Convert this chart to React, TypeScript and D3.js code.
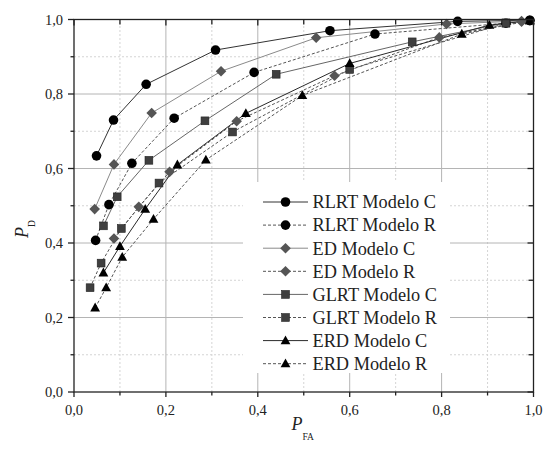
import React from "react";
import * as d3 from "d3";

// ---- data ----
const seriesNames = [
  "RLRT Modelo C",
  "RLRT Modelo R",
  "ED Modelo C",
  "ED Modelo R",
  "GLRT Modelo C",
  "GLRT Modelo R",
  "ERD Modelo C",
  "ERD Modelo R",
];

const rlrtC_x = [0.049, 0.086, 0.157, 0.308, 0.557, 0.835, 0.992];
const rlrtC_y = [0.634, 0.73, 0.826, 0.918, 0.97, 0.995, 0.998];
const rlrtR_x = [0.047, 0.076, 0.126, 0.218, 0.392, 0.655, 0.94, 0.992];
const rlrtR_y = [0.407, 0.503, 0.614, 0.735, 0.858, 0.961, 0.99, 0.997];
const edC_x = [0.045, 0.087, 0.169, 0.32, 0.527, 0.811, 0.974];
const edC_y = [0.491, 0.611, 0.749, 0.861, 0.951, 0.988, 0.996];
const edR_x = [0.087, 0.141, 0.208, 0.354, 0.567, 0.795, 0.974];
const edR_y = [0.412, 0.497, 0.591, 0.727, 0.849, 0.952, 0.994];
const glrtC_x = [0.064, 0.094, 0.163, 0.285, 0.44, 0.736, 0.94];
const glrtC_y = [0.446, 0.524, 0.622, 0.728, 0.853, 0.94, 0.991];
const glrtR_x = [0.035, 0.059, 0.103, 0.185, 0.345, 0.6, 0.94];
const glrtR_y = [0.28, 0.346, 0.439, 0.561, 0.698, 0.866, 0.99];
const erdC_x = [0.064, 0.1, 0.155, 0.225, 0.374, 0.6, 0.904, 0.992];
const erdC_y = [0.32, 0.391, 0.491, 0.61, 0.748, 0.882, 0.985, 0.997];
const erdR_x = [0.046, 0.07, 0.105, 0.173, 0.287, 0.497, 0.844, 0.992];
const erdR_y = [0.226, 0.28, 0.362, 0.464, 0.623, 0.796, 0.961, 0.997];

const tickValues = [0, 0.2, 0.4, 0.6, 0.8, 1.0];
const tickLabels = ["0,0", "0,2", "0,4", "0,6", "0,8", "1,0"];
const minorValues = [0.1, 0.3, 0.5, 0.7, 0.9];

type Shape = "circle" | "diamond" | "square" | "triangle";

const seriesXs = [rlrtC_x, rlrtR_x, edC_x, edR_x, glrtC_x, glrtR_x, erdC_x, erdR_x];
const seriesYs = [rlrtC_y, rlrtR_y, edC_y, edR_y, glrtC_y, glrtR_y, erdC_y, erdR_y];
const shapes: Shape[] = ["circle", "circle", "diamond", "diamond", "square", "square", "triangle", "triangle"];
const dashed = [false, true, false, true, false, true, false, true];
const lineColors = ["#333", "#555", "#8a8a8a", "#555", "#666", "#555", "#2a2a2a", "#555"];
const markerColors = ["#000", "#000", "#555", "#555", "#3f3f3f", "#3f3f3f", "#000", "#000"];

const W = 548;
const H = 450;
const X0 = 74;
const X1 = 533.5;
const Y0 = 392;
const Y1 = 19.5;
const FONT = "'Liberation Serif', 'Times New Roman', serif";

function Marker({ shape, x, y, color }: { shape: Shape; x: number; y: number; color: string }) {
  if (shape === "circle") return <circle cx={x} cy={y} r={4.8} fill={color} />;
  if (shape === "square")
    return <rect x={x - 3.9} y={y - 3.9} width={7.8} height={7.8} fill={color} stroke="#222" strokeWidth={0.6} />;
  if (shape === "diamond") {
    const h = 5.3;
    return <path d={`M${x},${y - h}L${x + h},${y}L${x},${y + h}L${x - h},${y}Z`} fill={color} />;
  }
  const w = 4.9;
  return <path d={`M${x},${y - 5.2}L${x + w},${y + 3.6}L${x - w},${y + 3.6}Z`} fill={color} />;
}

export default function App() {
  const xs = d3.scaleLinear().domain([0, 1]).range([X0, X1]);
  const ys = d3.scaleLinear().domain([0, 1]).range([Y0, Y1]);
  const line = d3
    .line<[number, number]>()
    .x((d) => xs(d[0]))
    .y((d) => ys(d[1]));

  const legendX0 = 243;
  const legendX1 = 450;
  const legendY0 = 182;
  const legendY1 = 373;
  const rowY = (i: number) => 202 + i * 23.1;

  return (
    <svg
      width={W}
      height={H}
      style={{ position: "absolute", left: 0, top: 0, background: "#fff" }}
      fontFamily={FONT}
    >
      <rect width={W} height={H} fill="#fff" />
      {/* minor grid */}
      {minorValues.map((v) => (
        <g key={"mg" + v}>
          <line x1={xs(v)} x2={xs(v)} y1={Y0} y2={Y1} stroke="#d4d4d4" strokeDasharray="2,2" strokeWidth={1} />
          <line x1={X0} x2={X1} y1={ys(v)} y2={ys(v)} stroke="#d4d4d4" strokeDasharray="2,2" strokeWidth={1} />
        </g>
      ))}
      {/* major grid */}
      {tickValues.slice(1, 5).map((v) => (
        <g key={"Mg" + v}>
          <line x1={xs(v)} x2={xs(v)} y1={Y0} y2={Y1} stroke="#b4b4b4" strokeWidth={1} />
          <line x1={X0} x2={X1} y1={ys(v)} y2={ys(v)} stroke="#b4b4b4" strokeWidth={1} />
        </g>
      ))}
      {/* legend background */}
      <rect x={legendX0} y={legendY0} width={legendX1 - legendX0} height={legendY1 - legendY0} fill="#fff" />

      {/* series lines */}
      {seriesXs.map((sx, i) => (
        <path
          key={"l" + i}
          d={line(sx.map((x, j) => [x, seriesYs[i][j]] as [number, number])) || ""}
          fill="none"
          stroke={lineColors[i]}
          strokeWidth={1}
          strokeDasharray={dashed[i] ? "3,2" : undefined}
        />
      ))}
      {/* markers */}
      {seriesXs.map((sx, i) =>
        sx.map((x, j) => (
          <Marker key={"m" + i + "-" + j} shape={shapes[i]} x={xs(x)} y={ys(seriesYs[i][j])} color={markerColors[i]} />
        ))
      )}

      {/* frame */}
      <rect x={X0} y={Y1} width={X1 - X0} height={Y0 - Y1} fill="none" stroke="#222" strokeWidth={1.3} />

      {/* ticks */}
      {tickValues.map((v) => (
        <g key={"t" + v}>
          <line x1={xs(v)} x2={xs(v)} y1={Y0} y2={Y0 + 5} stroke="#222" strokeWidth={1.3} />
          <line x1={xs(v)} x2={xs(v)} y1={Y1} y2={Y1 + 6} stroke="#222" strokeWidth={1.3} />
          <line x1={X0 - 6} x2={X0} y1={ys(v)} y2={ys(v)} stroke="#222" strokeWidth={1.3} />
          <line x1={X1 - 6} x2={X1} y1={ys(v)} y2={ys(v)} stroke="#222" strokeWidth={1.3} />
        </g>
      ))}
      {minorValues.map((v) => (
        <g key={"mt" + v}>
          <line x1={xs(v)} x2={xs(v)} y1={Y0} y2={Y0 + 3.5} stroke="#222" strokeWidth={1.3} />
          <line x1={xs(v)} x2={xs(v)} y1={Y1} y2={Y1 + 5} stroke="#222" strokeWidth={1.3} />
          <line x1={X0 - 3.5} x2={X0} y1={ys(v)} y2={ys(v)} stroke="#222" strokeWidth={1.3} />
          <line x1={X1 - 5} x2={X1} y1={ys(v)} y2={ys(v)} stroke="#222" strokeWidth={1.3} />
        </g>
      ))}
      {/* tick labels */}
      {tickValues.map((v, i) => (
        <text key={"xl" + v} x={xs(v)} y={Y0 + 23} textAnchor="middle" fontSize={14.5} fill="#222">
          {tickLabels[i]}
        </text>
      ))}
      {tickValues.map((v, i) => (
        <text key={"yl" + v} x={X0 - 11} y={ys(v) + 5} textAnchor="end" fontSize={14.5} fill="#222">
          {tickLabels[i]}
        </text>
      ))}

      {/* axis titles */}
      <text x={291.5} y={430} fontSize={18} fill="#222">
        <tspan fontStyle="italic">P</tspan>
        <tspan fontSize={9.5} dy={10} dx={0}>FA</tspan>
      </text>
      <text transform="translate(28,238) rotate(-90)" fontSize={18} fill="#222">
        <tspan fontStyle="italic">P</tspan>
        <tspan fontSize={9.5} dy={7}>D</tspan>
      </text>

      {/* legend */}
      {seriesNames.map((name, i) => (
        <g key={"lg" + i}>
          <line
            x1={263}
            x2={308}
            y1={rowY(i)}
            y2={rowY(i)}
            stroke={lineColors[i]}
            strokeWidth={1}
            strokeDasharray={dashed[i] ? "3,2" : undefined}
          />
          <Marker shape={shapes[i]} x={285.5} y={rowY(i)} color={markerColors[i]} />
          <text x={312.5} y={rowY(i) + 6.3} fontSize={18.3} fill="#222">
            {name}
          </text>
        </g>
      ))}
    </svg>
  );
}
